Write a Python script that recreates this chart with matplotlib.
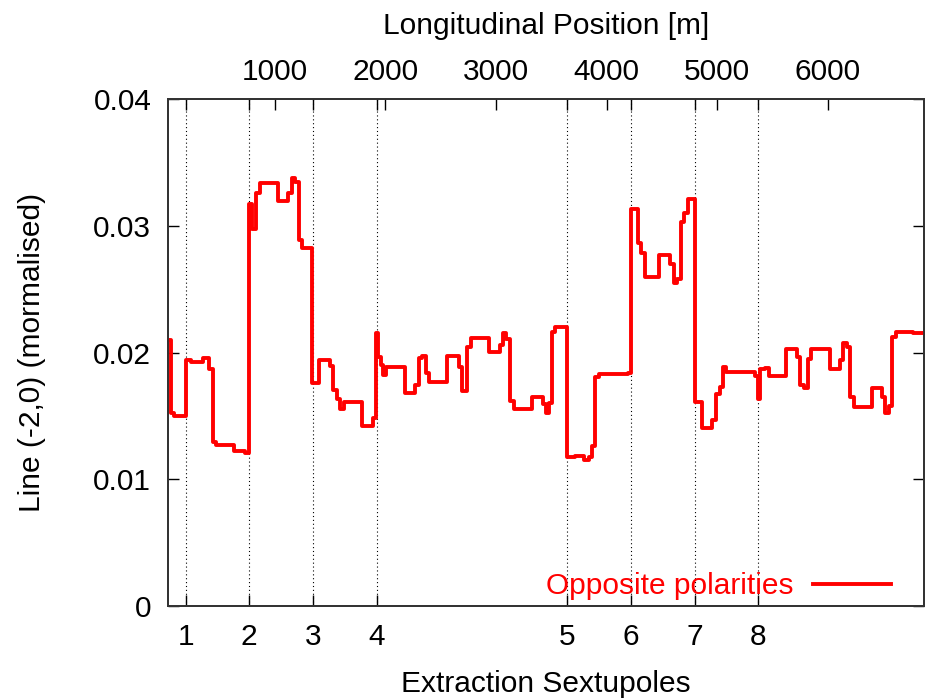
import matplotlib
matplotlib.use("Agg")
from matplotlib import pyplot as plt
from matplotlib.lines import Line2D

plt.rcParams['font.family'] = ['Liberation Sans', 'DejaVu Sans']

# step positions [m] and normalised line strength (value holds until next position)
pos = [42, 64, 87, 195, 241, 346, 403, 439, 471, 629, 729, 765, 788, 833, 869,
       1030, 1120, 1151, 1181, 1222, 1249, 1339, 1402, 1502, 1529, 1565, 1592,
       1624, 1787, 1886, 1918, 1936, 1959, 1977, 2001, 2176, 2266, 2302, 2332,
       2363, 2393, 2558, 2664, 2688, 2742, 2772, 2938, 3035, 3064, 3095, 3129,
       3164, 3327, 3426, 3450, 3478, 3511, 3538, 3647, 3713, 3794, 3839, 3869,
       3900, 3930, 4192, 4224, 4285, 4316, 4352, 4475, 4578, 4608, 4638, 4671,
       4701, 4737, 4798, 4861, 4954, 4988, 5024, 5054, 5084, 5340, 5367, 5390,
       5431, 5470, 5627, 5723, 5753, 5783, 5822, 5853, 6018, 6109, 6139, 6175,
       6206, 6235, 6398, 6495, 6520, 6552, 6585, 6615, 6772, 6868]
line = [0.0210, 0.01525, 0.0150, 0.01937, 0.01927, 0.01957, 0.01867, 0.01292,
        0.01270, 0.01223, 0.01209, 0.03169, 0.02972, 0.03258, 0.03335, 0.03198,
        0.03256, 0.03374, 0.03348, 0.02888, 0.02822, 0.01757, 0.01941, 0.01896,
        0.01704, 0.01631, 0.01552, 0.01612, 0.01420, 0.01481, 0.02156, 0.01964,
        0.01901, 0.01822, 0.01888, 0.01684, 0.01744, 0.01957, 0.01972, 0.01836,
        0.01765, 0.01972, 0.01888, 0.01699, 0.02046, 0.02112, 0.02002, 0.02059,
        0.02156, 0.02104, 0.01620, 0.01554, 0.01651, 0.01594, 0.01520, 0.01599,
        0.02159, 0.02204, 0.01173, 0.01183, 0.01152, 0.01178, 0.01265, 0.01804,
        0.01830, 0.01838, 0.03130, 0.02862, 0.02787, 0.02598, 0.02769, 0.02698,
        0.02546, 0.02578, 0.03032, 0.03098, 0.03209, 0.01609, 0.01408, 0.01464,
        0.01673, 0.01730, 0.01883, 0.01846, 0.01815, 0.01633, 0.01867, 0.01874,
        0.01815, 0.02025, 0.01962, 0.01744, 0.01718, 0.01946, 0.02025, 0.01870,
        0.01941, 0.02073, 0.02046, 0.01647, 0.01572, 0.01718, 0.01647, 0.01525,
        0.01574, 0.02120, 0.02164, 0.02151, 0.02151]

sext_pos = [195, 765, 1344, 1920, 3647, 4219, 4798, 5374]
sext_labels = ['1', '2', '3', '4', '5', '6', '7', '8']
pos_ticks = [1000, 2000, 3000, 4000, 5000, 6000]
y_ticks = [0, 0.01, 0.02, 0.03, 0.04]

fs = 21.5
fig = plt.figure(figsize=(9.25, 7), dpi=100)
ax = fig.add_axes([168 / 925, 94 / 700, 755.5 / 925, 507 / 700])

for s in sext_pos:
    ax.axvline(s, color='black', lw=0.8, ls=(0, (1, 2.5)), zorder=1)

ax.step(pos, line, where='post', color='red', lw=2.8, zorder=3)

ax.set_xlim(32.5, 6868)
ax.set_ylim(0, 0.04)
ax.set_yticks(y_ticks)
ax.set_yticklabels(['0', '0.01', '0.02', '0.03', '0.04'])
ax.set_xticks(sext_pos)
ax.set_xticklabels(sext_labels)
ax.tick_params(axis='both', direction='in', length=8, width=1, labelsize=fs, pad=12)
ax.tick_params(axis='y', right=True, pad=12)
ax.set_xlabel('Extraction Sextupoles', fontsize=fs, labelpad=14)
ax.set_ylabel('Line (-2,0) (mormalised)', fontsize=fs, labelpad=34)

ax2 = ax.twiny()
ax2.set_xlim(ax.get_xlim())
ax2.set_xticks(pos_ticks)
ax2.set_xticks(sext_pos, minor=True)
ax2.tick_params(axis='x', which='both', direction='in', length=8, width=1, labelsize=fs, pad=9)
ax2.set_xlabel('Longitudinal Position [m]', fontsize=fs, labelpad=18)

for a in (ax, ax2):
    for sp in a.spines.values():
        sp.set_linewidth(1.3)
        sp.set_color('#333333')

h = Line2D([], [], color='red', lw=2.8)
leg = ax.legend([h], ['Opposite polarities'], loc='center right',
                bbox_to_anchor=(0.957, 0.039), frameon=False, markerfirst=False,
                fontsize=fs, handlelength=2.6, handletextpad=0.65,
                borderpad=0, borderaxespad=0)
for t in leg.get_texts():
    t.set_color('red')

fig.savefig('out.png', dpi=100)
